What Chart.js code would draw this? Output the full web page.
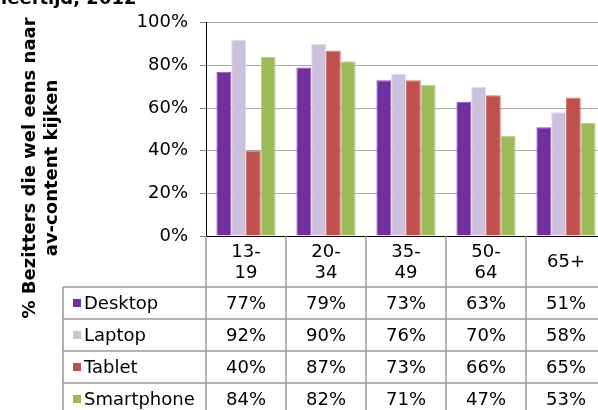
<!DOCTYPE html>
<html>
<head>
<meta charset="utf-8">
<script src="https://cdn.jsdelivr.net/npm/chart.js@4"></script>
<style>
  html, body { margin: 0; padding: 0; background: #fff; overflow: hidden; }
  #wrap { width: 598px; height: 410px; overflow: hidden; position: relative; }
  canvas { display: block; width: 610px; height: 420px; }
</style>
</head>
<body>
<div id="wrap"><canvas id="c" width="610" height="420"></canvas></div>
<script>
// categorieën (leeftijd) en waarden per apparaat
const ageGroups = [["13-", "19"], ["20-", "34"], ["35-", "49"], ["50-", "64"], ["65+"]];
const seriesNames = ["Desktop", "Laptop", "Tablet", "Smartphone"];
const desktop = [77, 79, 73, 63, 51];
const laptop = [92, 90, 76, 70, 58];
const tablet = [40, 87, 73, 66, 65];
const smartphone = [84, 82, 71, 47, 53];
const yTicks = [0, 20, 40, 60, 80, 100];
const axisTitle = ["% Bezitters die wel eens naar", "av-content kijken"];
const chartTitle = "leeftijd, 2012";

const colors = ["#7030A0", "#CCC1DA", "#C0504D", "#9BBB59"];
const edges = ["#8a55b5", "#e0d8ea", "#d27a77", "#b5d07f"];
const FONT = "'DejaVu Sans', Verdana, sans-serif";

const values = [desktop, laptop, tablet, smartphone];

// tabel onder de grafiek + astitel
const tablePlugin = {
  id: "dataTable",
  afterDraw(chart) {
    const { ctx, chartArea: ca, scales: { x } } = chart;
    const half = (x.getPixelForValue(1) - x.getPixelForValue(0)) / 2;
    const top = ca.bottom, headH = 51, rowH = 32, legLeft = 63;
    const bottom = top + headH + rowH * seriesNames.length;
    ctx.save();
    ctx.strokeStyle = "#999";
    ctx.lineWidth = 1.5;
    // horizontale lijnen
    for (let i = 0; i <= seriesNames.length; i++) {
      const y = top + headH + rowH * i;
      ctx.beginPath(); ctx.moveTo(legLeft, y); ctx.lineTo(ca.right + 10, y); ctx.stroke();
    }
    // verticale lijnen
    ctx.beginPath(); ctx.moveTo(legLeft, top + headH); ctx.lineTo(legLeft, bottom); ctx.stroke();
    ageGroups.forEach((g, i) => {
      const xl = x.getPixelForValue(i) - half;
      ctx.beginPath(); ctx.moveTo(xl, top); ctx.lineTo(xl, bottom); ctx.stroke();
    });

    ctx.fillStyle = "#000";
    ctx.font = "18px " + FONT;
    ctx.textAlign = "center";
    ctx.textBaseline = "middle";
    // kop
    ageGroups.forEach((g, i) => {
      const cx = x.getPixelForValue(i);
      const lh = 21;
      const y0 = top + headH / 2 - (g.length - 1) * lh / 2;
      g.forEach((t, j) => ctx.fillText(t, cx, y0 + j * lh + 1));
    });
    // rijen
    seriesNames.forEach((name, r) => {
      const cy = top + headH + rowH * r + rowH / 2 + 1;
      ctx.fillStyle = colors[r];
      ctx.fillRect(73, cy - 5, 8, 8);
      ctx.fillStyle = "#000";
      ctx.textAlign = "left";
      ctx.fillText(name, 84, cy);
      ctx.textAlign = "center";
      values[r].forEach((v, i) => ctx.fillText(v + "%", x.getPixelForValue(i), cy));
    });

    // y-astitel
    ctx.font = "bold 18px " + FONT;
    ctx.translate(0, 168);
    ctx.rotate(-Math.PI / 2);
    ctx.fillText(axisTitle[0], 0, 30);
    ctx.fillText(axisTitle[1], 0, 52);
    ctx.restore();

    // afgesneden titel bovenaan
    ctx.save();
    ctx.font = "bold 18px " + FONT;
    ctx.fillStyle = "#000";
    ctx.textAlign = "left";
    ctx.textBaseline = "alphabetic";
    ctx.fillText(chartTitle, 1, 4);
    ctx.restore();
  }
};

new Chart(document.getElementById("c"), {
  type: "bar",
  data: {
    labels: ageGroups.map(g => g.join("")),
    datasets: seriesNames.map((name, i) => ({
      label: name,
      data: values[i],
      backgroundColor: colors[i],
      borderColor: edges[i],
      borderWidth: 1,
      categoryPercentage: 0.74,
      barPercentage: 1
    }))
  },
  options: {
    responsive: false,
    animation: false,
    layout: { padding: { top: 20, left: 0, right: 4, bottom: 184 } },
    plugins: { legend: { display: false }, tooltip: { enabled: false } },
    scales: {
      x: {
        afterFit: s => { s.height = 0; },
        ticks: { display: false },
        grid: { display: false },
        border: { color: "#000", width: 1 }
      },
      y: {
        min: yTicks[0],
        max: yTicks[yTicks.length - 1],
        afterFit: s => { s.width = 206; },
        afterBuildTicks: s => { s.ticks = yTicks.map(v => ({ value: v })); },
        ticks: {
          padding: 12,
          color: "#000",
          font: { family: FONT, size: 18 },
          callback: v => v + "%"
        },
        grid: { color: "#a6a6a6", lineWidth: 1, tickLength: 6, tickColor: "#808080" },
        border: { color: "#000", width: 1 }
      }
    }
  },
  plugins: [tablePlugin]
});
</script>
</body>
</html>
